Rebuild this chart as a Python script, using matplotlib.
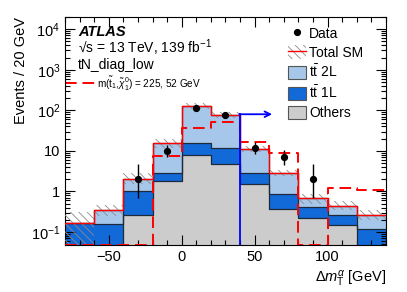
"""
ATLAS-style stacked histogram: delta m_T^alpha in tN_diag_low
"""

import numpy as np
import matplotlib.pyplot as plt
from matplotlib.patches import Patch
from matplotlib.lines import Line2D
from matplotlib.ticker import FixedLocator, FixedFormatter, LogLocator, MultipleLocator

plt.rcParams['font.family'] = ['Liberation Sans', 'DejaVu Sans']
plt.rcParams['mathtext.fontset'] = 'custom'
plt.rcParams['mathtext.rm'] = 'Liberation Sans'
plt.rcParams['mathtext.it'] = 'Liberation Sans:italic'
plt.rcParams['mathtext.bf'] = 'Liberation Sans:bold'
plt.rcParams['hatch.linewidth'] = 0.6

# bin edges (GeV)
edges = [-80, -60, -40, -20, 0, 20, 40, 60, 80, 100, 120, 140]

# background components (events per bin)
others = [0.02, 0.02, 0.26, 1.85, 7.9, 4.8, 1.53, 0.37, 0.22, 0.149, 0.03]
ttbar_1l = [0.144, 0.135, 0.77, 1.02, 7.6, 6.9, 1.37, 0.48, 0.20, 0.121, 0.089]
ttbar_2l = [0.006, 0.185, 0.97, 12.6, 113, 66, 8.5, 1.95, 0.26, 0.17, 0.141]

# total SM uncertainty band
sm_up = [0.32, 0.46, 2.8, 20, 150, 90, 13, 3.4, 0.85, 0.58, 0.35]
sm_down = [0.0, 0.25, 1.5, 12, 110, 65, 9.5, 2.4, 0.5, 0.35, 0.2]

# signal m(stop, neutralino) = 225, 52 GeV
signal = [0, 0, 0, 7.6, 37.6, 51, 16.4, 8.8, 0, 1.24, 1.07]

# data (bin centres with observed counts)
data_x = [-30, -10, 10, 30, 50, 70, 90]
data_y = [2, 10, 117, 77, 12, 7, 2]
data_err_lo = [1.3, 3.1, 10.8, 8.8, 3.4, 2.6, 1.3]
data_err_hi = [2.7, 4.3, 11.8, 9.8, 4.6, 3.8, 2.7]

cut_value = 40
arrow_level = 80

ymin, ymax = 0.048, 2.0e4

fig = plt.figure(figsize=(4.07, 2.92), dpi=100)
ax = fig.add_axes([0.160, 0.161, 0.788, 0.781])

edges = np.array(edges, dtype=float)
c_others = np.array(others)
c_1l = c_others + np.array(ttbar_1l)
c_2l = c_1l + np.array(ttbar_2l)


def step_xy(vals):
    x = np.repeat(edges, 2)[1:-1]
    y = np.repeat(vals, 2)
    return x, y


col_light = '#a7c7ea'
col_dark = '#1269d8'
col_gray = '#cccccc'
edge_col = '#1e2a3a'
hatch_col = '#8c8c8c'
hatch = '\\\\\\\\'

# stacked fills, topmost first so lower layers sit on top
for top, col in [(c_2l, col_light), (c_1l, col_dark), (c_others, col_gray)]:
    x, y = step_xy(np.maximum(top, ymin * 0.5))
    ax.fill_between(x, ymin * 0.5, y, color=col, linewidth=0, zorder=1)
    ax.plot(x, y, color=edge_col, lw=0.9, zorder=2)

# uncertainty band
x, yu = step_xy(np.array(sm_up))
_, yd = step_xy(np.maximum(np.array(sm_down), ymin * 0.5))
ax.fill_between(x, yd, yu, facecolor='none', edgecolor=hatch_col, hatch=hatch,
                linewidth=0, zorder=3)

# total SM line
x, y = step_xy(c_2l)
ax.plot(x, y, color='red', lw=1.0, zorder=4)

# signal
x, y = step_xy(np.maximum(np.array(signal), ymin * 1.02))
ax.plot(x, y, color='red', lw=1.4, ls=(0, (6, 3)), zorder=5)

# data
ax.errorbar(data_x, data_y, yerr=[data_err_lo, data_err_hi], fmt='o', color='black',
            ms=4.2, elinewidth=1.0, capsize=0, zorder=6)

# cut arrow
ax.plot([cut_value, cut_value], [ymin, arrow_level], color='blue', lw=1.3, zorder=6)
ax.annotate('', xy=(cut_value + 22, arrow_level), xytext=(cut_value - 0.5, arrow_level),
            arrowprops=dict(arrowstyle='->', color='blue', lw=1.3,
                            mutation_scale=10, shrinkA=0, shrinkB=0), zorder=6)

ax.set_xlim(edges[0], edges[-1])
ax.set_yscale('log')
ax.set_ylim(ymin, ymax)

ax.xaxis.set_major_locator(MultipleLocator(50))
ax.xaxis.set_minor_locator(MultipleLocator(10))
ax.yaxis.set_major_locator(FixedLocator([0.1, 1, 10, 100, 1000, 10000]))
ax.yaxis.set_major_formatter(FixedFormatter([r'$10^{-1}$', '1', '10', r'$10^{2}$',
                                             r'$10^{3}$', r'$10^{4}$']))
ax.yaxis.set_minor_locator(LogLocator(base=10, subs=np.arange(2, 10)))
ax.yaxis.set_minor_formatter(FixedFormatter([]))
ax.tick_params(which='both', direction='in', top=True, right=True, labelsize=10.5)
ax.tick_params(which='major', length=7, width=0.8)
ax.tick_params(which='minor', length=3.5, width=0.8)
ax.set_xticks([-50, 0, 50, 100])
ax.set_xticklabels(['\u221250', '0', '50', '100'])

ax.set_ylabel('Events / 20 GeV', fontsize=10.5, loc='top', labelpad=2)
ax.set_xlabel(r'$\Delta m_{\mathrm{T}}^{\alpha}$ [GeV]', fontsize=10.5, loc='right')

# labels
ax.text(0.04, 0.935, 'ATLAS', transform=ax.transAxes, fontsize=10.5,
        fontweight='bold', style='italic', va='center')
ax.text(0.04, 0.865, '\u221as = 13 TeV, 139 fb$^{-1}$', transform=ax.transAxes,
        fontsize=10, va='center')
ax.text(0.04, 0.79, 'tN_diag_low', transform=ax.transAxes, fontsize=10, va='center')
ax.plot([0.0, 0.095], [0.71, 0.71], transform=ax.transAxes, color='red', lw=1.4,
        ls=(0, (6, 3)), clip_on=False)
ax.text(0.10, 0.71, r'm($\tilde{\mathrm{t}}_{1}$,$\tilde{\chi}^{0}_{1}$) = 225, 52 GeV',
        transform=ax.transAxes, fontsize=7.2, va='center')

# legend
handles = [
    Line2D([], [], marker='o', color='black', ls='none', ms=4.2),
    (Patch(facecolor='none', edgecolor=hatch_col, hatch=hatch, linewidth=0),
     Line2D([], [], color='red', lw=1.0)),
    Patch(facecolor=col_light, edgecolor='#555555', lw=0.8),
    Patch(facecolor=col_dark, edgecolor='#555555', lw=0.8),
    Patch(facecolor=col_gray, edgecolor='#555555', lw=0.8),
]
labels = ['Data', 'Total SM', r't$\bar{\mathrm{t}}$ 2L', r't$\bar{\mathrm{t}}$ 1L', 'Others']
ax.legend(handles, labels, loc='upper left', bbox_to_anchor=(0.665, 1.0), frameon=False,
          fontsize=10, handlelength=1.3, handleheight=1.1, handletextpad=0.2,
          labelspacing=0.3, borderpad=0.2)

fig.savefig('out.png', dpi=100)
